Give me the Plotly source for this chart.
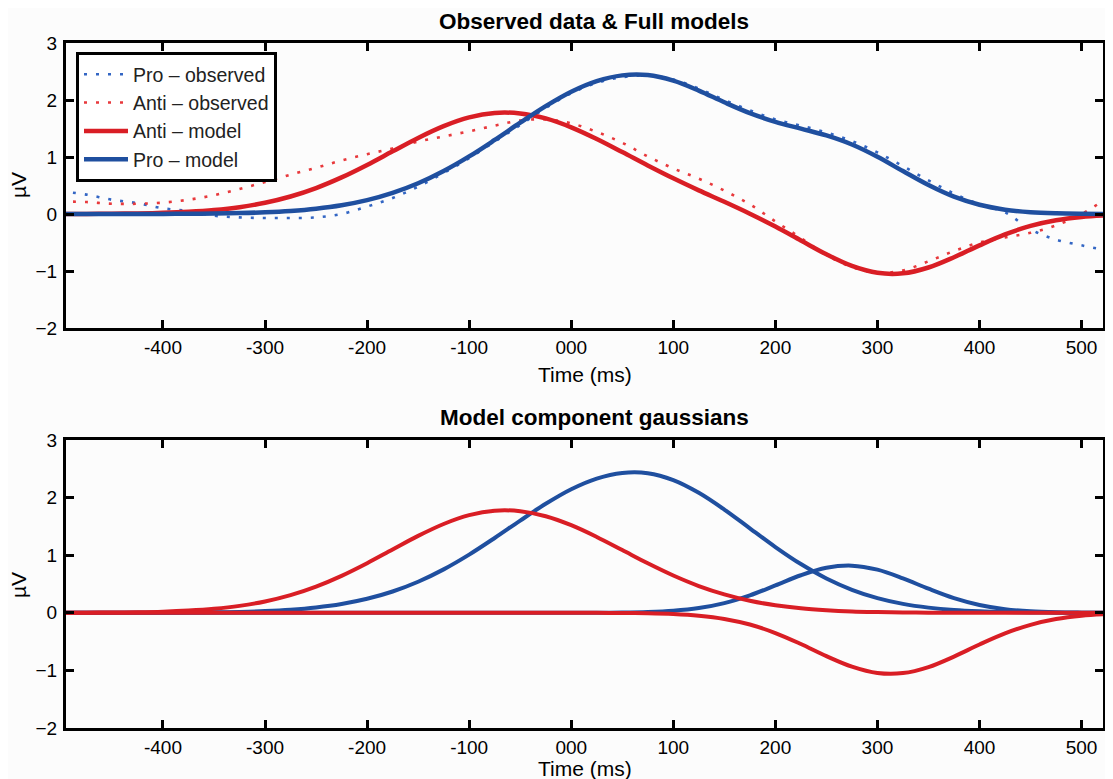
import plotly.graph_objects as go

# ---- data ----
time_ms = [-500, -475, -450, -425, -400, -375, -350, -325, -300, -275, -250, -225,
           -200, -175, -150, -125, -100, -75, -50, -25, 0, 25, 50, 75, 100, 125,
           150, 175, 200, 225, 250, 275, 300, 325, 350, 375, 400, 425, 450, 475,
           500, 525]

pro_observed = [0.40, 0.34, 0.25, 0.19, 0.10, 0.05, -0.03, -0.06, -0.07, -0.07, -0.06, 0.00,
                0.13, 0.28, 0.48, 0.72, 0.98, 1.27, 1.56, 1.86, 2.12, 2.30, 2.40, 2.43, 2.36, 2.20,
                2.00, 1.82, 1.66, 1.55, 1.43, 1.28, 1.08, 0.84, 0.59, 0.36, 0.17, 0.03, -0.27, -0.45,
                -0.55, -0.64]

anti_observed = [0.22, 0.21, 0.18, 0.18, 0.20, 0.25, 0.33, 0.44, 0.56, 0.69, 0.81, 0.94,
                 1.05, 1.15, 1.27, 1.36, 1.45, 1.55, 1.64, 1.66, 1.59, 1.44, 1.25, 1.01, 0.80, 0.62,
                 0.41, 0.17, -0.13, -0.42, -0.72, -0.93, -1.03, -0.99, -0.83, -0.65, -0.50, -0.41,
                 -0.33, -0.20, 0.00, 0.28]

# model component gaussians
anti_comp1 = [0.001, 0.002, 0.005, 0.010, 0.020, 0.039, 0.070, 0.120, 0.197, 0.307, 0.455, 0.642,
              0.861, 1.099, 1.335, 1.542, 1.695, 1.773, 1.765, 1.677, 1.521, 1.317, 1.089, 0.859,
              0.647, 0.465, 0.320, 0.209, 0.131, 0.078, 0.045, 0.024, 0.013, 0.006, 0.003, 0.001,
              0.0, 0.0, 0.0, 0.0, 0.0, 0.0]
anti_comp2 = [0.0, 0.0, 0.0, 0.0, 0.0, 0.0, 0.0, 0.0, 0.0, 0.0, 0.0, 0.0,
              0.0, 0.0, 0.0, 0.0, 0.0, 0.0, 0.0, 0.0, 0.0, -0.001, -0.003, -0.008, -0.021, -0.050,
              -0.106, -0.204, -0.351, -0.542, -0.752, -0.935, -1.045, -1.047, -0.942, -0.760,
              -0.550, -0.358, -0.209, -0.109, -0.051, -0.022]
pro_comp1 = [0.0, 0.0, 0.0, 0.001, 0.002, 0.004, 0.008, 0.016, 0.030, 0.054, 0.093, 0.153,
             0.243, 0.370, 0.539, 0.754, 1.010, 1.299, 1.601, 1.892, 2.145, 2.330, 2.428, 2.424,
             2.304, 2.083, 1.792, 1.467, 1.142, 0.846, 0.596, 0.400, 0.255, 0.155, 0.090, 0.049,
             0.026, 0.013, 0.006, 0.003, 0.001, 0.0]
pro_comp2 = [0.0, 0.0, 0.0, 0.0, 0.0, 0.0, 0.0, 0.0, 0.0, 0.0, 0.0, 0.0,
             0.0, 0.0, 0.0, 0.0, 0.0, 0.0, 0.0, 0.0, 0.0, 0.001, 0.004, 0.013, 0.035, 0.082,
             0.168, 0.303, 0.475, 0.652, 0.782, 0.819, 0.749, 0.598, 0.418, 0.255, 0.136, 0.063,
             0.026, 0.009, 0.003, 0.001]

# full models = sum of their components
anti_model = [a + b for a, b in zip(anti_comp1, anti_comp2)]
pro_model = [a + b for a, b in zip(pro_comp1, pro_comp2)]

x_tickvals = [-400, -300, -200, -100, 0, 100, 200, 300, 400, 500]
x_ticktext = ["-400", "-300", "-200", "-100", "000", "100", "200", "300", "400", "500"]
y_tickvals = [-2, -1, 0, 1, 2, 3]
y_ticktext = ["\u22122", "\u22121", "0", "1", "2", "3"]

RED = "#d91e25"
BLUE = "#1f4f9f"
RED_DOT = "#e8393c"
BLUE_DOT = "#3366c4"
FONT = "Liberation Sans, Arial, sans-serif"

fig = go.Figure()

# top panel
fig.add_trace(go.Scatter(x=time_ms, y=pro_observed, mode="lines", name="Pro \u2013 observed",
                         line=dict(color=BLUE_DOT, width=2.6, dash="3px,9px", shape="spline"),
                         xaxis="x", yaxis="y"))
fig.add_trace(go.Scatter(x=time_ms, y=anti_observed, mode="lines", name="Anti \u2013 observed",
                         line=dict(color=RED_DOT, width=2.6, dash="3px,9px", shape="spline"),
                         xaxis="x", yaxis="y"))
fig.add_trace(go.Scatter(x=time_ms, y=anti_model, mode="lines", name="Anti \u2013 model",
                         line=dict(color=RED, width=4.5, shape="spline"),
                         xaxis="x", yaxis="y"))
fig.add_trace(go.Scatter(x=time_ms, y=pro_model, mode="lines", name="Pro \u2013 model",
                         line=dict(color=BLUE, width=4.5, shape="spline"),
                         xaxis="x", yaxis="y"))

# bottom panel
for comp in (pro_comp1, pro_comp2):
    fig.add_trace(go.Scatter(x=time_ms, y=comp, mode="lines", showlegend=False,
                             line=dict(color=BLUE, width=4, shape="spline"),
                             xaxis="x2", yaxis="y2"))
for comp in (anti_comp1, anti_comp2):
    fig.add_trace(go.Scatter(x=time_ms, y=comp, mode="lines", showlegend=False,
                             line=dict(color=RED, width=4, shape="spline"),
                             xaxis="x2", yaxis="y2"))

W, H = 1113, 779
OFF = 8  # the page body offsets the figure by 8px


def px_x(v):
    return (v - OFF) / W


def px_y(v):
    return 1 - (v - OFF) / H


xdom = [px_x(66), px_x(1103)]
top_dom = [px_y(328), px_y(43)]
bot_dom = [px_y(728), px_y(440)]

axis_common = dict(showline=True, linewidth=3, linecolor="black", mirror="ticks",
                   ticks="inside", ticklen=8, tickwidth=3, tickcolor="black",
                   showgrid=False, zeroline=False, automargin=False,
                   tickfont=dict(family=FONT, size=19, color="black"))

fig.update_layout(
    width=W, height=H,
    margin=dict(l=0, r=0, t=0, b=0, pad=0, autoexpand=False),
    paper_bgcolor="#fcfcfc", plot_bgcolor="#fcfcfc",
    xaxis=dict(domain=xdom, range=[-495, 521], tickvals=x_tickvals, ticktext=x_ticktext,
               anchor="y", **axis_common),
    yaxis=dict(domain=top_dom, range=[-2, 3], tickvals=y_tickvals, ticktext=y_ticktext,
               anchor="x", ticklabelstandoff=2, **axis_common),
    xaxis2=dict(domain=xdom, range=[-495, 521], tickvals=x_tickvals, ticktext=x_ticktext,
                anchor="y2", **axis_common),
    yaxis2=dict(domain=bot_dom, range=[-2, 3], tickvals=y_tickvals, ticktext=y_ticktext,
                anchor="x2", ticklabelstandoff=2, **axis_common),
    showlegend=True,
    legend=dict(x=px_x(76), y=px_y(52), xanchor="left", yanchor="top",
                bgcolor="white", bordercolor="black", borderwidth=3,
                font=dict(family=FONT, size=19.5, color="#222"),
                itemwidth=44, tracegroupgap=0),
    font=dict(family=FONT, color="black"),
)

annotations = [
    dict(text="<b>Observed data &amp; Full models</b>", x=px_x(594), y=px_y(21),
         font=dict(size=22.5)),
    dict(text="<b>Model component gaussians</b>", x=px_x(594), y=px_y(417),
         font=dict(size=22.5)),
    dict(text="Time (ms)", x=px_x(585), y=px_y(374), font=dict(size=21)),
    dict(text="Time (ms)", x=px_x(585), y=px_y(768), font=dict(size=21)),
    dict(text="\u00b5V", x=px_x(18), y=px_y(185), textangle=-90, font=dict(size=21)),
    dict(text="\u00b5V", x=px_x(18), y=px_y(585), textangle=-90, font=dict(size=21)),
]
for a in annotations:
    a.update(xref="paper", yref="paper", showarrow=False, xanchor="center", yanchor="middle")
    a["font"].update(family=FONT, color="black")
fig.update_layout(annotations=annotations)

fig.write_html("out.html")
